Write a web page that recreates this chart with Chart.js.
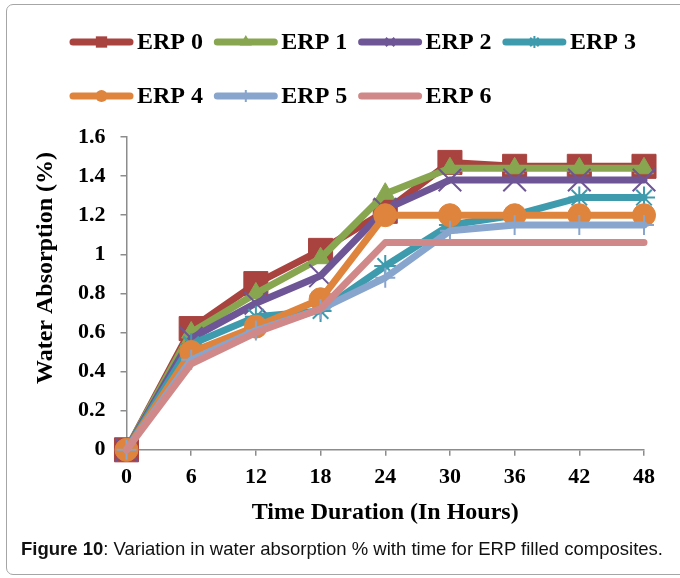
<!DOCTYPE html>
<html>
<head>
<meta charset="utf-8">
<script src="https://cdn.jsdelivr.net/npm/chart.js@4.4.1/dist/chart.umd.min.js"></script>
<style>
  html, body { margin: 0; padding: 0; background: #fff; }
  #wrap { position: relative; width: 680px; height: 578px; overflow: hidden; background: #fff; }
  #frame { position: absolute; left: 6px; top: 4px; width: 700px; height: 571px; border: 1px solid #a6a6a6; border-radius: 7px; box-sizing: border-box; }
  #cv { position: absolute; left: 0; top: 0; }
  #caption { position: absolute; left: 21px; top: 538px; font-family: "Liberation Sans", Arial, sans-serif; font-size: 18.5px; color: #111; white-space: nowrap; }
</style>
</head>
<body>
<div id="wrap">
  <div id="frame"></div>
  <canvas id="cv" width="680" height="578"></canvas>
  <div id="caption"><b>Figure 10</b>: Variation in water absorption % with time for ERP filled composites.</div>
</div>
<script>
// ---- data ----
const hours = ['0', '6', '12', '18', '24', '30', '36', '42', '48'];
const seriesNames = ['ERP 0', 'ERP 1', 'ERP 2', 'ERP 3', 'ERP 4', 'ERP 5', 'ERP 6'];
const erp0 = [0, 0.62, 0.85, 1.02, 1.22, 1.47, 1.45, 1.45, 1.45];
const erp1 = [0, 0.60, 0.80, 0.98, 1.31, 1.44, 1.44, 1.44, 1.44];
const erp2 = [0, 0.57, 0.75, 0.89, 1.23, 1.38, 1.38, 1.38, 1.38];
const erp3 = [0, 0.54, 0.68, 0.71, 0.94, 1.15, 1.20, 1.29, 1.29];
const erp4 = [0, 0.50, 0.63, 0.77, 1.20, 1.20, 1.20, 1.20, 1.20];
const erp5 = [0, 0.46, 0.61, 0.72, 0.88, 1.12, 1.15, 1.15, 1.15];
const erp6 = [0, 0.44, 0.60, 0.72, 1.06, 1.06, 1.06, 1.06, 1.06];
const yTicks = [0, 0.2, 0.4, 0.6, 0.8, 1, 1.2, 1.4, 1.6];
const yTickLabels = ['0', '0.2', '0.4', '0.6', '0.8', '1', '1.2', '1.4', '1.6'];

// ---- styles ----
const colors = ['#A8433F', '#88A650', '#6E5696', '#3E9BAD', '#DF843C', '#88A5CD', '#D08988'];
const styles = ['rect', 'triangle', 'crossRot', 'star', 'circle', 'cross', false];
const radii = [17, 11, 16, 11, 11.5, 10, 0];
const legendRadii = [8, 7, 6, 6, 6, 6, 0];
const allData = [erp0, erp1, erp2, erp3, erp4, erp5, erp6];

const serif = '"Liberation Serif", "Times New Roman", serif';

const datasets = allData.map((d, i) => ({
  label: seriesNames[i],
  data: d,
  borderColor: colors[i],
  backgroundColor: colors[i],
  borderWidth: 7,
  borderJoinStyle: 'round',
  borderCapStyle: 'round',
  pointStyle: styles[i] || 'circle',
  pointRadius: radii[i],
  pointHoverRadius: radii[i],
  pointBackgroundColor: colors[i],
  pointBorderColor: colors[i],
  pointBorderWidth: (styles[i] === 'crossRot' || styles[i] === 'star' || styles[i] === 'cross') ? 2 : 1,
  tension: 0,
  fill: false,
  clip: false,
  order: allData.length - i
}));

function drawMarker(ctx, style, x, y, r, color) {
  ctx.save();
  ctx.fillStyle = color; ctx.strokeStyle = color; ctx.lineWidth = 2;
  ctx.beginPath();
  if (style === 'rect') {
    const s = r * Math.SQRT1_2;
    ctx.rect(x - s, y - s, 2 * s, 2 * s); ctx.fill();
  } else if (style === 'triangle') {
    ctx.moveTo(x, y - r);
    ctx.lineTo(x + r * 0.866, y + r * 0.5);
    ctx.lineTo(x - r * 0.866, y + r * 0.5);
    ctx.closePath(); ctx.fill();
  } else if (style === 'circle') {
    ctx.arc(x, y, r, 0, Math.PI * 2); ctx.fill();
  } else if (style === 'crossRot' || style === 'star' || style === 'cross') {
    const d = r * Math.SQRT1_2;
    if (style !== 'cross') {
      ctx.moveTo(x - d, y - d); ctx.lineTo(x + d, y + d);
      ctx.moveTo(x - d, y + d); ctx.lineTo(x + d, y - d);
    }
    if (style !== 'crossRot') {
      ctx.moveTo(x, y - r); ctx.lineTo(x, y + r);
      if (style === 'star') { ctx.moveTo(x - r, y); ctx.lineTo(x + r, y); }
    }
    ctx.stroke();
  }
  ctx.restore();
}

const customText = {
  id: 'customText',
  afterDraw(chart) {
    const ctx = chart.ctx;
    // legend
    const colW = 144.3, x0 = 70, rows = [42, 96], lineLen = 63;
    ctx.save();
    ctx.font = 'bold 24px ' + serif;
    ctx.textBaseline = 'middle';
    ctx.textAlign = 'left';
    seriesNames.forEach((name, i) => {
      const col = i % 4, row = Math.floor(i / 4);
      const x = x0 + col * colW, y = rows[row];
      ctx.save();
      ctx.strokeStyle = colors[i]; ctx.lineWidth = 7; ctx.lineCap = 'round';
      ctx.beginPath(); ctx.moveTo(x + 3, y); ctx.lineTo(x + lineLen - 3, y); ctx.stroke();
      ctx.restore();
      if (styles[i]) drawMarker(ctx, styles[i], x + lineLen / 2, y, legendRadii[i], colors[i]);
      ctx.fillStyle = '#000';
      ctx.fillText(name, x + lineLen + 4, y + 1);
    });
    // y axis title
    ctx.translate(46, 268);
    ctx.rotate(-Math.PI / 2);
    ctx.textAlign = 'center';
    ctx.fillText('Water Absorption (%)', 0, 0);
    ctx.restore();
  }
};

new Chart(document.getElementById('cv'), {
  type: 'line',
  data: { labels: hours, datasets },
  plugins: [customText],
  options: {
    responsive: false,
    animation: false,
    events: [],
    layout: { padding: { top: 137, left: 63, right: 36, bottom: 47 } },
    plugins: { legend: { display: false }, tooltip: { enabled: false } },
    scales: {
      x: {
        type: 'category',
        offset: false,
        grid: { display: true, drawOnChartArea: false, drawTicks: true, tickLength: 6, color: '#8c8c8c', lineWidth: 1.5 },
        border: { display: true, color: '#8c8c8c', width: 1.5 },
        ticks: { color: '#000', font: { family: serif, size: 22, weight: 'bold' }, padding: 8, maxRotation: 0, autoSkip: false },
        title: { display: true, text: 'Time Duration (In Hours)', color: '#000', font: { family: serif, size: 24, weight: 'bold' }, padding: { top: 0, bottom: 4 } }
      },
      y: {
        min: 0, max: 1.6,
        afterBuildTicks(scale) { scale.ticks = yTicks.map(v => ({ value: v })); },
        grid: { display: true, drawOnChartArea: false, drawTicks: true, tickLength: 6, color: '#8c8c8c', lineWidth: 1.5 },
        border: { display: true, color: '#8c8c8c', width: 1.5 },
        ticks: {
          color: '#000', font: { family: serif, size: 22, weight: 'bold' }, padding: 15,
          callback: (v, idx) => yTickLabels[idx]
        }
      }
    }
  }
});
</script>
</body>
</html>
